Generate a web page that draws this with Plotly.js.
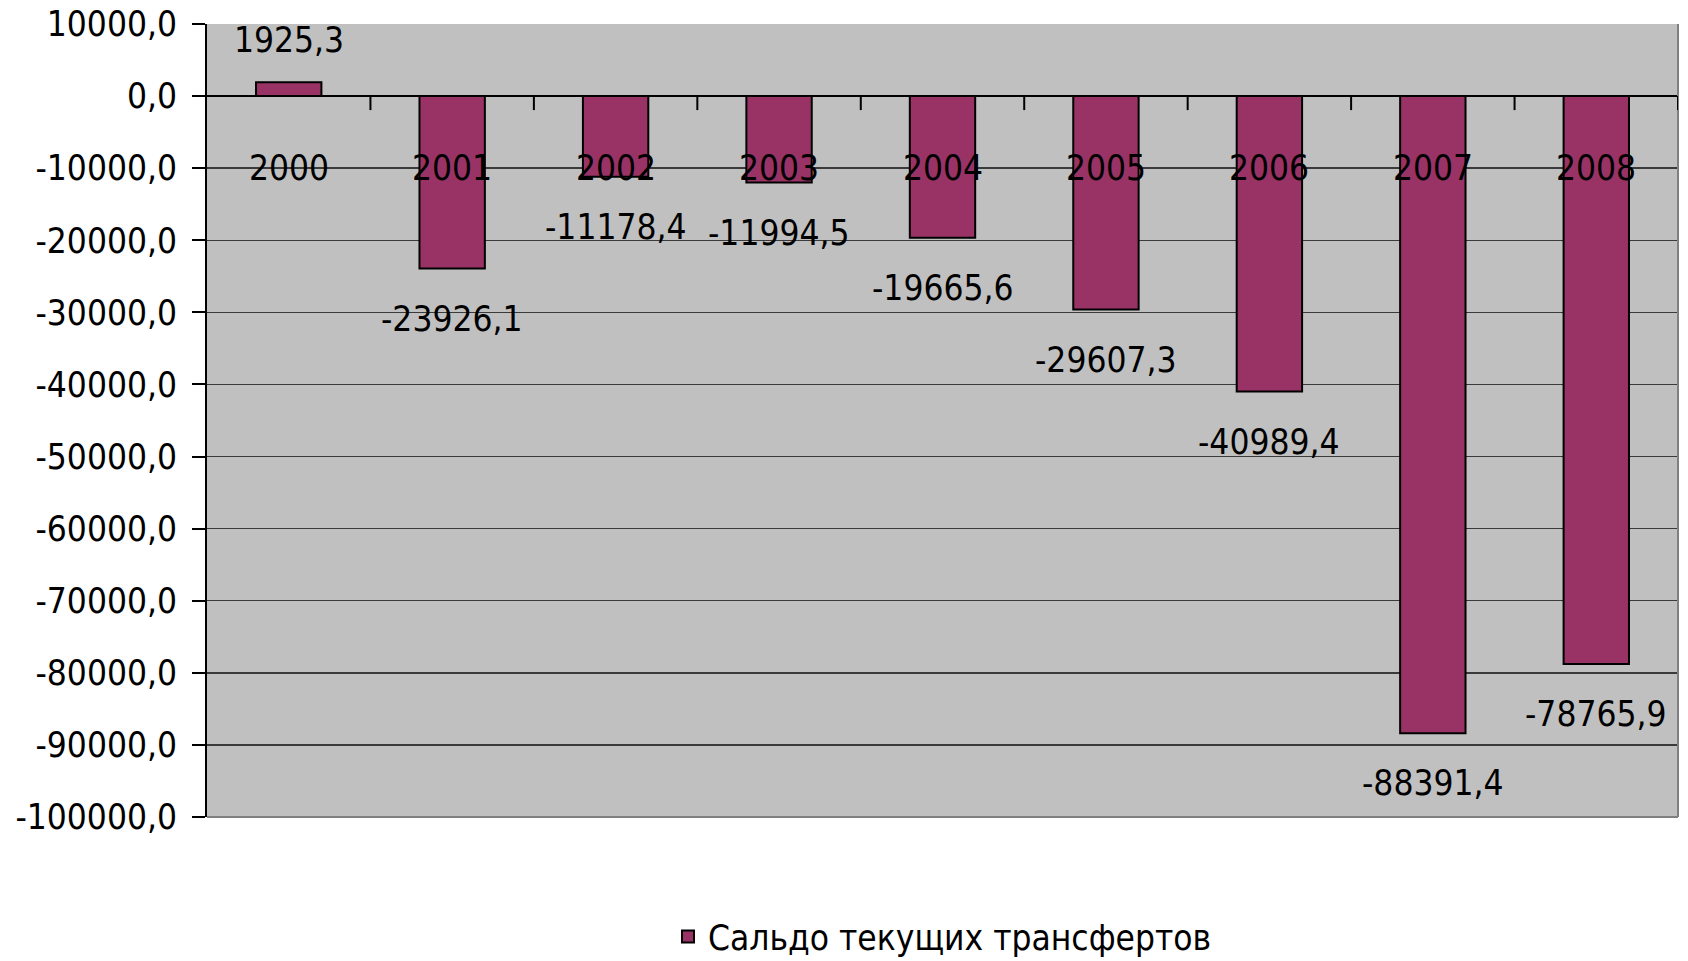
<!DOCTYPE html>
<html>
<head>
<meta charset="utf-8">
<script src="https://cdn.plot.ly/plotly-3.0.1.min.js"></script>
<style>html,body{margin:0;padding:0;background:#fff;}#chart{width:1688px;height:961px;}</style>
</head>
<body>
<div id="chart"></div>
<script>
const years = ['2000','2001','2002','2003','2004','2005','2006','2007','2008'];
const saldo = [1925.3, -23926.1, -11178.4, -11994.5, -19665.6, -29607.3, -40989.4, -88391.4, -78765.9];
const seriesName = 'Сальдо текущих трансфертов';
const yTicks = [10000, 0, -10000, -20000, -30000, -40000, -50000, -60000, -70000, -80000, -90000, -100000];
const yMin = -100000, yMax = 10000;

const FONT = '"DejaVu Sans Condensed", "Liberation Sans Narrow", "Liberation Sans", sans-serif';
const FS = 35;
const fmt = v => v.toFixed(1).replace('.', ',');

const trace = {
  type: 'bar',
  x: years,
  y: saldo,
  name: seriesName,
  width: 0.4,
  marker: {color: '#993366', line: {color: '#000000', width: 2}},
  hoverinfo: 'skip',
  showlegend: true
};

// value labels (x given as category index)
const annotations = years.map((yr, i) => ({
  x: i, y: saldo[i], xref: 'x', yref: 'y',
  text: fmt(saldo[i]), showarrow: false,
  yanchor: 'middle', xanchor: 'center',
  yshift: saldo[i] >= 0 ? 42 : -50,
  font: {family: FONT, size: FS, color: '#000'}
}));
// category labels next to the zero axis
years.forEach((yr, i) => annotations.push({
  x: i, y: 0, xref: 'x', yref: 'y',
  text: yr, showarrow: false,
  yanchor: 'middle', xanchor: 'center',
  yshift: -72,
  font: {family: FONT, size: FS, color: '#000'}
}));

// tick marks at category boundaries on the zero axis
const shapes = [
  {type: 'line', xref: 'paper', yref: 'paper', x0: 1, x1: 1, y0: 0, y1: 1, line: {color: '#808080', width: 2}},
  {type: 'line', xref: 'paper', yref: 'paper', x0: 0, x1: 1, y0: 0, y1: 0, line: {color: '#808080', width: 2}}
];
for (let i = 1; i <= years.length; i++) {
  shapes.push({type: 'line', xref: 'x', yref: 'y', ysizemode: 'pixel', yanchor: 0,
    x0: i - 0.5, x1: i - 0.5, y0: 0, y1: -14, line: {color: '#000', width: 2}});
}

const layout = {
  width: 1688, height: 961,
  margin: {l: 207, r: 10, t: 24, b: 144, autoexpand: false},
  paper_bgcolor: '#ffffff',
  plot_bgcolor: '#c0c0c0',
  font: {family: FONT, size: FS, color: '#000'},
  xaxis: {
    type: 'category',
    range: [-0.5, years.length - 0.5],
    showline: false, ticks: '', showticklabels: false, showgrid: false, zeroline: false,
    fixedrange: true
  },
  yaxis: {
    range: [yMin, yMax],
    tickmode: 'array',
    tickvals: yTicks,
    ticktext: yTicks.map(fmt),
    showgrid: true, gridcolor: '#3a3a3a', gridwidth: 1.5,
    zeroline: true, zerolinecolor: '#000', zerolinewidth: 2,
    showline: true, linecolor: '#000', linewidth: 2,
    ticks: 'outside', ticklen: 13, tickcolor: '#000', tickwidth: 2,
    ticklabelstandoff: 8,
    tickfont: {family: FONT, size: FS, color: '#000'},
    automargin: false,
    fixedrange: true
  },
  shapes: shapes,
  legend: {
    orientation: 'h', x: 0.5, xanchor: 'center', y: -0.151, yanchor: 'middle',
    font: {family: FONT, size: FS, color: '#000'},
    bgcolor: 'rgba(0,0,0,0)'
  },
  annotations: annotations
};

Plotly.newPlot('chart', [trace], layout, {displayModeBar: false, staticPlot: true});
</script>
</body>
</html>
